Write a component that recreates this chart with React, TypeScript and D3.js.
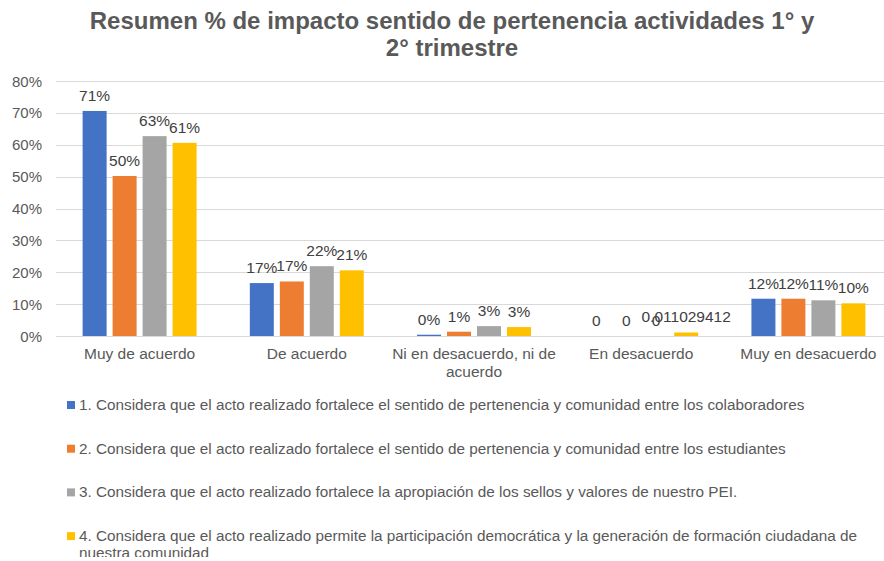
import React, { useEffect, useRef } from 'react';
import * as d3 from 'd3';

const categories = [
  'Muy de acuerdo',
  'De acuerdo',
  'Ni en desacuerdo, ni de acuerdo',
  'En desacuerdo',
  'Muy en desacuerdo',
];
const seriesNames = [
  '1. Considera que el acto realizado fortalece el sentido de pertenencia y comunidad entre los colaboradores',
  '2. Considera que el acto realizado fortalece el sentido de pertenencia y comunidad entre los estudiantes',
  '3. Considera que el acto realizado fortalece la apropiación de los sellos y valores de nuestro PEI.',
  '4. Considera que el acto realizado permite la participación democrática y la generación de formación ciudadana de nuestra comunidad',
];
const colaboradores = [0.706, 0.166, 0.004, 0, 0.117];
const estudiantes = [0.502, 0.171, 0.0135, 0, 0.117];
const sellos = [0.627, 0.219, 0.031, 0, 0.112];
const participacion = [0.606, 0.206, 0.028, 0.011029412, 0.1025];
const seriesValues = [colaboradores, estudiantes, sellos, participacion];
const seriesColors = ['#4472C4', '#ED7D31', '#A5A5A5', '#FFC000'];
const yTicks = [0, 0.1, 0.2, 0.3, 0.4, 0.5, 0.6, 0.7, 0.8];
const rawLabelCategories = ['En desacuerdo'];
const titleLines = [
  'Resumen % de impacto sentido de pertenencia actividades 1° y',
  '2° trimestre',
];

const W = 884;
const H = 561;
const FONT = '"Liberation Sans", Arial, sans-serif';

function wrapText(textSel: any, maxWidth: number, lineHeight: number) {
  textSel.each(function (this: SVGTextElement) {
    const text = d3.select(this);
    const words = text.text().split(/\s+/);
    const x = text.attr('x');
    const y = text.attr('y');
    text.text(null);
    let line: string[] = [];
    let lineNo = 0;
    let tspan = text.append('tspan').attr('x', x).attr('y', y);
    for (const w of words) {
      line.push(w);
      tspan.text(line.join(' '));
      if ((tspan.node() as SVGTSpanElement).getComputedTextLength() > maxWidth && line.length > 1) {
        line.pop();
        tspan.text(line.join(' '));
        line = [w];
        lineNo++;
        tspan = text.append('tspan').attr('x', x).attr('y', +y + lineNo * lineHeight).text(w);
      }
    }
  });
}

export default function App() {
  const ref = useRef<SVGSVGElement>(null);

  useEffect(() => {
    const svg = d3.select(ref.current);
    svg.selectAll('*').remove();

    const left = 56;
    const right = 892;
    const y = d3.scaleLinear().domain([0, 0.8]).range([336, 81]);
    const x0 = d3.scaleBand<string>().domain(categories).range([left, right]).padding(0);
    const x1 = d3
      .scaleBand<number>()
      .domain(d3.range(seriesValues.length))
      .range([0, x0.bandwidth()])
      .paddingInner(0.2)
      .paddingOuter(0.888);

    svg
      .append('defs')
      .append('clipPath')
      .attr('id', 'legend-clip')
      .append('rect')
      .attr('x', 0)
      .attr('y', 380)
      .attr('width', W)
      .attr('height', 177);

    // title
    svg
      .append('g')
      .selectAll('text')
      .data(titleLines)
      .join('text')
      .attr('x', 452)
      .attr('y', (_d, i) => 28.5 + i * 27)
      .attr('text-anchor', 'middle')
      .attr('font-family', FONT)
      .attr('font-weight', 'bold')
      .attr('font-size', 24)
      .attr('fill', '#595959')
      .text((d) => d);

    // gridlines
    svg
      .append('g')
      .selectAll('line')
      .data(yTicks)
      .join('line')
      .attr('x1', left)
      .attr('x2', right)
      .attr('y1', (d) => Math.round(y(d)) + 0.5)
      .attr('y2', (d) => Math.round(y(d)) + 0.5)
      .attr('stroke', '#D9D9D9')
      .attr('stroke-width', 1);

    // y labels
    svg
      .append('g')
      .selectAll('text')
      .data(yTicks)
      .join('text')
      .attr('x', 42)
      .attr('y', (d) => y(d) + 5.5)
      .attr('text-anchor', 'end')
      .attr('font-family', FONT)
      .attr('font-size', 15)
      .attr('fill', '#595959')
      .text((d) => d3.format('.0%')(d));

    // bars
    const groups = svg
      .append('g')
      .selectAll('g')
      .data(categories)
      .join('g')
      .attr('transform', (c) => `translate(${x0(c)},0)`);

    groups
      .selectAll('rect')
      .data((c, ci) => seriesValues.map((vals, si) => ({ c, si, v: vals[ci] })))
      .join('rect')
      .attr('x', (d) => x1(d.si)!)
      .attr('width', x1.bandwidth())
      .attr('y', (d) => y(d.v))
      .attr('height', (d) => y(0) - y(d.v))
      .attr('fill', (d) => seriesColors[d.si]);

    groups
      .selectAll('text')
      .data((c, ci) => seriesValues.map((vals, si) => ({ c, si, v: vals[ci] })))
      .join('text')
      .attr('x', (d) => x1(d.si)! + x1.bandwidth() / 2)
      .attr('y', (d) => y(d.v) - 10)
      .attr('text-anchor', 'middle')
      .attr('font-family', FONT)
      .attr('font-size', 15.5)
      .attr('fill', '#404040')
      .text((d) => (rawLabelCategories.includes(d.c) ? String(d.v) : d3.format('.0%')(d.v)));

    // category labels
    const catText = svg
      .append('g')
      .selectAll('text')
      .data(categories)
      .join('text')
      .attr('x', (c) => x0(c)! + x0.bandwidth() / 2)
      .attr('y', 358.5)
      .attr('text-anchor', 'middle')
      .attr('font-family', FONT)
      .attr('font-size', 15.5)
      .attr('fill', '#595959')
      .text((c) => c);
    wrapText(catText, 165, 18);

    // legend
    const leg = svg
      .append('g')
      .attr('clip-path', 'url(#legend-clip)')
      .selectAll('g')
      .data(seriesNames)
      .join('g')
      .attr('transform', (_d, i) => `translate(0,${405 + i * 43.7})`);
    leg
      .append('rect')
      .attr('x', 67)
      .attr('y', -4)
      .attr('width', 8)
      .attr('height', 8)
      .attr('fill', (_d, i) => seriesColors[i]);
    const legText = leg
      .append('text')
      .attr('x', 79)
      .attr('y', 5)
      .attr('font-family', FONT)
      .attr('font-size', 15.3)
      .attr('fill', '#595959')
      .text((d) => d);
    wrapText(legText, 790, 17);
  }, []);

  return (
    <div style={{ position: 'absolute', left: 0, top: 0 }}>
      <svg ref={ref} width={W} height={H} style={{ display: 'block', background: '#fff' }} />
    </div>
  );
}
